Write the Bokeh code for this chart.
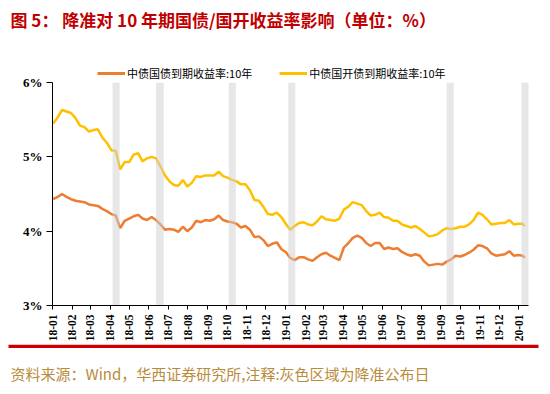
import numpy as np
import pandas as pd
from bokeh.plotting import figure
from bokeh.layouts import column
from bokeh.models import (FixedTicker, DatetimeTickFormatter, Label,
                          Legend, LegendItem, Range1d, CustomJSTickFormatter)
from bokeh.embed import file_html
from bokeh.resources import INLINE

# ---------------- data ----------------
dates = pd.date_range("2018-01-02", periods=106, freq="7D").append(pd.DatetimeIndex(["2020-01-10"]))

cgb_10y = [4.43, 4.46, 4.50, 4.46, 4.43, 4.41, 4.40, 4.39, 4.36, 4.35,
           4.34, 4.30, 4.27, 4.23, 4.21, 4.04, 4.14, 4.17, 4.20, 4.22,
           4.17, 4.15, 4.19, 4.15, 4.09, 4.02, 4.03, 4.02, 3.99, 4.06,
           4.00, 4.05, 4.14, 4.12, 4.15, 4.14, 4.16, 4.21, 4.15, 4.13,
           4.12, 4.10, 4.05, 4.07, 4.02, 3.92, 3.93, 3.88, 3.80, 3.83,
           3.85, 3.76, 3.72, 3.64, 3.61, 3.65, 3.65, 3.62, 3.60, 3.65,
           3.69, 3.71, 3.67, 3.64, 3.61, 3.78, 3.84, 3.91, 3.94, 3.91,
           3.84, 3.80, 3.84, 3.84, 3.76, 3.78, 3.76, 3.77, 3.72, 3.69,
           3.67, 3.69, 3.67, 3.59, 3.54, 3.55, 3.56, 3.55, 3.59, 3.62,
           3.67, 3.66, 3.68, 3.71, 3.75, 3.81, 3.80, 3.77, 3.70, 3.67,
           3.68, 3.69, 3.73, 3.67, 3.68, 3.67, 3.64]

cdb_10y = [5.45, 5.53, 5.63, 5.61, 5.59, 5.52, 5.42, 5.40, 5.34, 5.36,
           5.37, 5.26, 5.19, 5.09, 5.08, 4.83, 4.93, 4.93, 5.03, 5.05,
           4.94, 4.98, 5.00, 4.98, 4.87, 4.75, 4.67, 4.62, 4.61, 4.69,
           4.60, 4.65, 4.74, 4.73, 4.75, 4.75, 4.75, 4.80, 4.74, 4.72,
           4.69, 4.67, 4.63, 4.63, 4.55, 4.42, 4.41, 4.33, 4.23, 4.22,
           4.25, 4.19, 4.10, 4.02, 4.07, 4.11, 4.12, 4.09, 4.08, 4.13,
           4.20, 4.16, 4.15, 4.14, 4.17, 4.29, 4.33, 4.39, 4.37, 4.35,
           4.27, 4.21, 4.22, 4.25, 4.19, 4.18, 4.14, 4.14, 4.09, 4.07,
           4.05, 4.07, 4.03, 3.98, 3.93, 3.94, 3.96, 4.01, 4.04, 4.03,
           4.04, 4.06, 4.06, 4.09, 4.15, 4.25, 4.22, 4.16, 4.09, 4.10,
           4.11, 4.11, 4.15, 4.09, 4.10, 4.10, 4.07]

rrr_start = ["2018-04-05", "2018-06-12", "2018-10-04", "2019-01-05", "2019-09-10", "2020-01-05"]
rrr_end = ["2018-04-16", "2018-06-24", "2018-10-15", "2019-01-16", "2019-09-21", "2020-01-18"]

month_ticks = pd.date_range("2018-01-01", "2020-01-01", freq="MS")
y_ticks = [3, 4, 5, 6]

name_cgb = "中债国债到期收益率:10年"
name_cdb = "中债国开债到期收益率:10年"
title_text = "图 5：  降准对 10 年期国债/国开收益率影响（单位：%）"
source_text = "资料来源：Wind，华西证券研究所,注释:灰色区域为降准公布日"

CJK = "Noto Sans CJK SC"
ORANGE = "#ED7D31"
YELLOW = "#FFC000"


def blank(height):
    f = figure(width=550, height=height, output_backend="svg", toolbar_location=None,
               x_range=Range1d(0, 550), y_range=Range1d(height, 0),
               x_axis_location=None, y_axis_location=None, frame_align=False,
               min_border_left=0, min_border_right=0, min_border_top=0, min_border_bottom=0)
    f.outline_line_color = None
    f.xgrid.visible = False
    f.ygrid.visible = False
    f.border_fill_color = "white"
    return f


# ---------------- header (title + legend) ----------------
head = blank(83)
head.add_layout(Label(x=10, y=19, text=title_text, text_font=CJK, text_font_style="bold",
                      text_font_size="17px", text_color="#C00000",
                      text_baseline="middle", text_align="left"))
k1 = head.line(x=[np.nan], y=[np.nan], line_color=ORANGE, line_width=3)
k2 = head.line(x=[np.nan], y=[np.nan], line_color=YELLOW, line_width=3)
legend = Legend(items=[LegendItem(label=name_cgb, renderers=[k1]),
                       LegendItem(label=name_cdb, renderers=[k2])],
                orientation="horizontal", location=(97, 2.5),
                label_text_font=CJK, label_text_font_size="11px", label_text_color="black",
                glyph_width=28, glyph_height=12, label_height=12, label_standoff=2, spacing=27,
                padding=0, margin=0, border_line_color=None, background_fill_alpha=0)
head.add_layout(legend, "center")

# ---------------- main chart ----------------
p = figure(width=550, height=270, x_axis_type="datetime", output_backend="svg",
           toolbar_location=None, frame_align=False, margin=(-9, 0, 0, 0),
           x_range=Range1d(pd.Timestamp("2018-01-01"), pd.Timestamp("2020-01-16")),
           y_range=Range1d(3, 6),
           min_border_left=52, min_border_right=22, min_border_top=8, min_border_bottom=38)
p.outline_line_color = None
p.xgrid.visible = False
p.ygrid.visible = False
p.background_fill_color = "white"
p.border_fill_alpha = 0

r1 = p.line(dates, cgb_10y, line_color=ORANGE, line_width=2.5)
r2 = p.line(dates, cdb_10y, line_color=YELLOW, line_width=2.5)

p.quad(left=pd.to_datetime(rrr_start), right=pd.to_datetime(rrr_end), bottom=3, top=6,
       fill_color="#D0D0D0", fill_alpha=0.5, line_color=None)

xa = p.xaxis[0]
xa.ticker = FixedTicker(ticks=[t.value // 10**6 for t in month_ticks])
xa.formatter = DatetimeTickFormatter(days="%y-%m", months="%y-%m", years="%y-%m",
                                     hours="%y-%m", minutes="%y-%m", seconds="%y-%m")
xa.major_label_orientation = np.pi / 2
xa.major_label_text_font = "Liberation Serif"
xa.major_label_text_font_style = "bold"
xa.major_label_text_font_size = "11.5px"
xa.major_label_text_color = "black"
xa.axis_line_color = "black"
xa.major_tick_line_color = "black"
xa.major_tick_out = 4
xa.major_tick_in = 0
xa.minor_tick_line_color = None
xa.major_label_standoff = 5

ya = p.yaxis[0]
ya.ticker = FixedTicker(ticks=y_ticks)
ya.formatter = CustomJSTickFormatter(code="return tick.toFixed(0) + '%';")
ya.major_label_text_font = "Liberation Serif"
ya.major_label_text_font_style = "bold"
ya.major_label_text_font_size = "13px"
ya.major_label_text_color = "black"
ya.axis_line_color = "black"
ya.major_tick_line_color = "black"
ya.major_tick_out = 6
ya.major_tick_in = 0
ya.minor_tick_line_color = None
ya.major_label_standoff = 4

# ---------------- footer (red rule + source) ----------------
foot = blank(50)
foot.quad(left=[8], right=[538], top=[0], bottom=[3.5], fill_color="#CC0000", line_color=None)
foot.add_layout(Label(x=10, y=29, text=source_text, text_font=CJK, text_font_size="15px",
                      text_color="#B98B3C", text_baseline="middle", text_align="left"))

layout = column(head, p, foot, spacing=0)
open("out.html", "w").write(file_html(layout, INLINE))
